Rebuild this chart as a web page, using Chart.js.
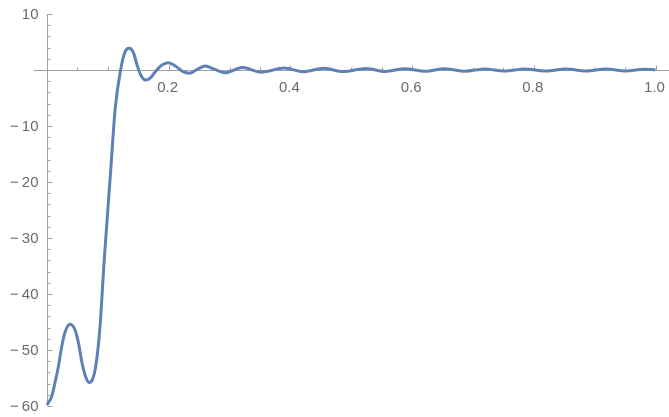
<!DOCTYPE html>
<html>
<head>
<meta charset="utf-8">
<script src="https://cdn.jsdelivr.net/npm/chart.js@4/dist/chart.umd.min.js"></script>
<style>
  html, body { margin: 0; padding: 0; background: #fff; }
  canvas { display: block; }
</style>
</head>
<body>
<canvas id="grafico" width="669" height="417"></canvas>
<script>
// curve samples (x, y)
const xs = [0, 0.008, 0.013, 0.019, 0.024, 0.030, 0.038, 0.046, 0.052, 0.057,
            0.063, 0.069, 0.075, 0.080, 0.087, 0.094, 0.104, 0.112, 0.121, 0.128,
            0.135, 0.142, 0.148, 0.154, 0.162, 0.170, 0.178, 0.189, 0.199, 0.211,
            0.222, 0.234, 0.247, 0.260, 0.276, 0.293, 0.321, 0.352, 0.390, 0.421,
            0.455, 0.487, 0.524, 0.556, 0.588, 0.622, 0.653, 0.687, 0.720, 0.752,
            0.785, 0.820, 0.853, 0.886, 0.918, 0.952, 0.982, 1.0];
const ys = [-59.8, -58.2, -55.9, -52.8, -49.5, -46.7, -45.4, -46.4, -48.9, -52.0,
            -54.6, -55.8, -55.2, -53.0, -46.0, -34.0, -19.0, -7.0, 0.0, 3.2,
            3.9, 3.1, 0.9, -0.9, -1.8, -1.4, -0.3, 0.9, 1.3, 0.7,
            -0.2, -0.6, 0.1, 0.7, 0.1, -0.5, 0.45, -0.38, 0.35, -0.32,
            0.3, -0.28, 0.27, -0.26, 0.24, -0.24, 0.22, -0.22, 0.2, -0.2,
            0.2, -0.19, 0.18, -0.18, 0.17, -0.17, 0.15, 0.05];

// axis ticks
const xTicks = [0.2, 0.4, 0.6, 0.8, 1.0];
const xTickLabels = ['0.2', '0.4', '0.6', '0.8', '1.0'];
const yTicks = [-60, -50, -40, -30, -20, -10, 10];
const yTickLabels = ['\u2212\u200960', '\u2212\u200950', '\u2212\u200940', '\u2212\u200930',
                     '\u2212\u200920', '\u2212\u200910', '10'];

// axes drawn through the origin, ticks pointing inward
const eixos = {
  id: 'eixos',
  beforeDatasetsDraw(chart) {
    const { ctx, scales: { x, y } } = chart;
    const x0 = Math.round(x.getPixelForValue(0)) + 0.5;
    const y0 = Math.round(y.getPixelForValue(0)) + 0.5;
    ctx.save();
    ctx.strokeStyle = '#a0a0a0';
    ctx.lineWidth = 1;
    ctx.beginPath();
    ctx.moveTo(34, y0);
    ctx.lineTo(chart.width, y0);
    ctx.moveTo(x0, y.getPixelForValue(10));
    ctx.lineTo(x0, y.getPixelForValue(-60));

    // x ticks (minor every 0.05)
    for (let i = 1; i <= 20; i++) {
      const v = i * 0.05;
      const px = Math.round(x.getPixelForValue(v)) + 0.5;
      const len = i % 4 === 0 ? 5 : 3;
      ctx.moveTo(px, y0);
      ctx.lineTo(px, y0 - len);
    }
    // y ticks (minor every 2)
    for (let v = -60; v <= 10; v += 2) {
      if (v === 0) continue;
      const py = Math.round(y.getPixelForValue(v)) + 0.5;
      const len = v % 10 === 0 ? 5 : 3;
      ctx.moveTo(x0, py);
      ctx.lineTo(x0 + len, py);
    }
    ctx.stroke();

    ctx.fillStyle = '#6a6a6a';
    ctx.font = '15px "Liberation Sans", Arial, sans-serif';
    ctx.textAlign = 'center';
    ctx.textBaseline = 'middle';
    xTicks.forEach((v, i) => {
      ctx.fillText(xTickLabels[i], x.getPixelForValue(v) - 1, y0 + 17);
    });
    ctx.textAlign = 'right';
    yTicks.forEach((v, i) => {
      ctx.fillText(yTickLabels[i], x0 - 9, y.getPixelForValue(v) + 1);
    });
    ctx.restore();
  }
};

const ctx = document.getElementById('grafico');

new Chart(ctx, {
  type: 'line',
  data: {
    datasets: [{
      data: xs.map((v, i) => ({ x: v, y: ys[i] })),
      borderColor: '#5e81b5',
      borderWidth: 3,
      pointRadius: 0,
      fill: false,
      cubicInterpolationMode: 'monotone',
      clip: 6
    }]
  },
  options: {
    responsive: false,
    animation: false,
    layout: { padding: { left: 47, right: 13.5, top: 14, bottom: 11 } },
    scales: {
      x: { type: 'linear', min: 0, max: 1, display: false },
      y: { type: 'linear', min: -60, max: 10, display: false }
    },
    plugins: {
      legend: { display: false },
      tooltip: { enabled: false }
    }
  },
  plugins: [eixos]
});
</script>
</body>
</html>
